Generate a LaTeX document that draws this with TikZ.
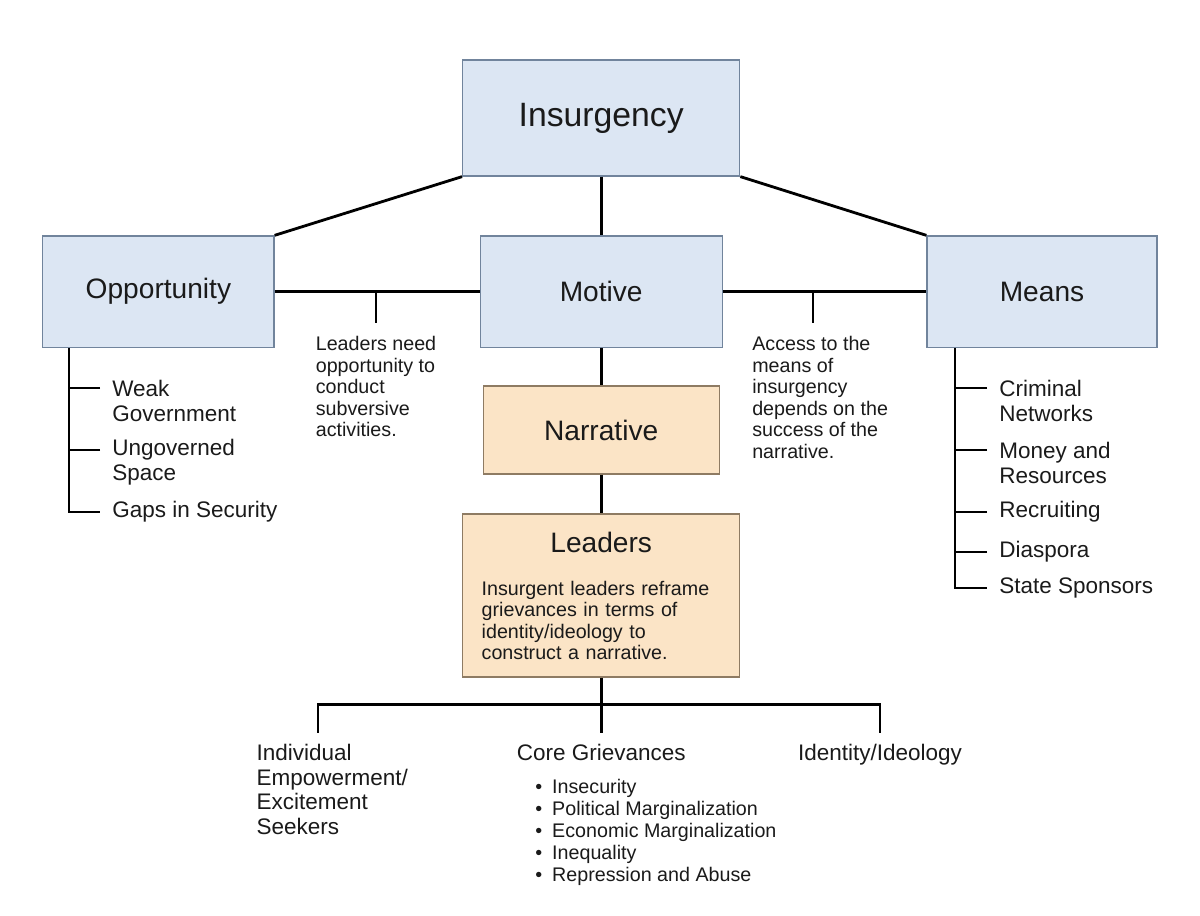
\documentclass[tikz,border=0pt]{standalone}
\usepackage{fontspec}
\setsansfont{Liberation Sans}
\usetikzlibrary{positioning}
\definecolor{FactorFill}{HTML}{DCE6F3}
\definecolor{FactorEdge}{HTML}{71849C}
\definecolor{StoryFill}{HTML}{FBE4C6}
\definecolor{StoryEdge}{HTML}{8E7B63}
\definecolor{Ink}{HTML}{1A1A1A}

\begin{document}
\begin{tikzpicture}[
    font=\sffamily,
    text=Ink,
    factor/.style={
        draw=FactorEdge,
        fill=FactorFill,
        line width=0.9pt,
        minimum height=2.78cm,
        align=center,
        font=\sffamily\fontsize{20}{24}\selectfont
    },
    story/.style={factor, draw=StoryEdge, fill=StoryFill},
    link/.style={line width=2pt, draw=black},
    note/.style={align=left, inner xsep=1mm, inner ysep=3.25mm,
                 font=\sffamily\fontsize{14}{15.3}\selectfont},
    item/.style={anchor=west, align=left, inner xsep=3mm, inner ysep=1mm,
                 font=\sffamily\fontsize{16}{17.8}\selectfont},
    branch/.style={anchor=north, align=left, inner ysep=2.75mm,
                   font=\sffamily\fontsize{16}{17.5}\selectfont}
]
\useasboundingbox (0,0) rectangle (30,22.9);

% Top of the tree
\node[factor, minimum width=6.925cm, minimum height=2.9cm,
      font=\sffamily\fontsize{24}{28}\selectfont] (insurgency) at (15.03,19.95)
    {Insurgency};

% The three conditions
\node[factor, minimum width=5.78cm] (opportunity) at (3.96,15.61) {Opportunity};
\node[factor, minimum width=6.05cm] (motive) at (15.03,15.61) {Motive};
\node[factor, minimum width=5.75cm] (means) at (26.05,15.61) {Means};

\draw[link] (insurgency.south west) -- (opportunity.north east);
\draw[link] (insurgency.south east) -- (means.north west);
\draw[link] (insurgency.south) -- (motive.north);
\draw[link] (opportunity.east) -- (motive.west);
\draw[link] (motive.east) -- (means.west);

% Narrative and leaders
\node[story, minimum width=5.9cm, minimum height=2.2cm] (narrative) at (15.03,12.15)
    {Narrative};
\node[story, minimum width=6.925cm, minimum height=4.075cm, text width=5.975cm,
      align=left, inner xsep=4.75mm,
      font=\sffamily\fontsize{14}{15}\selectfont] (leaders) at (15.03,8.01)
    {{\centering\fontsize{20}{24}\selectfont Leaders\par}\vspace{16pt}%
     Insurgent leaders reframe\\grievances in terms of\\identity/ideology to\\
     construct a narrative.};

\draw[link] (motive.south) -- (narrative.north);
\draw[link] (narrative.south) -- (leaders.north);

% Notes on the links
\node[note, anchor=north] (opnote) at (9.4,14.825)
    {Leaders need\\opportunity to\\conduct\\subversive\\activities.};
\draw[link] (opnote.north |- opportunity.east) -- (opnote.north);

\coordinate (metick) at (20.325,0);
\node[note, anchor=north west] (menote) at (18.7,14.825)
    {Access to the\\means of\\insurgency\\depends on the\\success of the\\narrative.};
\draw[link] (metick |- motive.east) -- (metick |- menote.north);

% Opportunity list
\coordinate (optrunk) at (1.725,0);
\node[item] (weak) at (2.5,12.8875) {Weak\\Government};
\node[item] (ungoverned) at (2.5,11.3375) {Ungoverned\\Space};
\node[item] (gaps) at (2.5,10.1) {Gaps in Security};
\draw[link] (opportunity.south -| optrunk) |- (gaps.west);
\foreach \n in {weak,ungoverned}
    \draw[link] ([yshift=3.125mm]\n.west) -| (opportunity.south -| optrunk);

% Means list
\coordinate (metrunk) at (23.875,0);
\node[item] (criminal) at (24.675,12.8875) {Criminal\\Networks};
\node[item] (money) at (24.675,11.3375) {Money and\\Resources};
\node[item] (recruiting) at (24.675,10.1) {Recruiting};
\node[item] (diaspora) at (24.675,9.1) {Diaspora};
\node[item] (sponsors) at (24.675,8.2) {State Sponsors};
\draw[link] (means.south -| metrunk) |- (sponsors.west);
\foreach \n in {criminal,money}
    \draw[link] ([yshift=3.125mm]\n.west) -| (means.south -| metrunk);
\foreach \n in {recruiting,diaspora}
    \draw[link] (\n.west) -| (means.south -| metrunk);

% What leaders draw on
\draw[link] (leaders.south) -- ++(0,-0.6725) coordinate (hub);
\coordinate (dropleft) at (7.95,0);
\node[branch, anchor=north west] (individual) at (6.29,4.575)
    {Individual\\Empowerment/\\Excitement\\Seekers};
\node[branch] (grievances) at (15.03,4.575) {Core Grievances};
\node[branch] (identity) at (22.0,4.575) {Identity/Ideology};
\draw[link] (dropleft |- individual.north) |- (hub) -| (identity.north);
\draw[link] (hub) -- (grievances.north);

\node[anchor=north west, inner sep=0pt, align=left,
      font=\sffamily\fontsize{14}{15.6}\selectfont] (grieflist) at (13.38,3.425)
    {\textbullet\hspace{0.5em}Insecurity\\
     \textbullet\hspace{0.5em}Political Marginalization\\
     \textbullet\hspace{0.5em}Economic Marginalization\\
     \textbullet\hspace{0.5em}Inequality\\
     \textbullet\hspace{0.5em}Repression and Abuse};

\end{tikzpicture}
\end{document}
